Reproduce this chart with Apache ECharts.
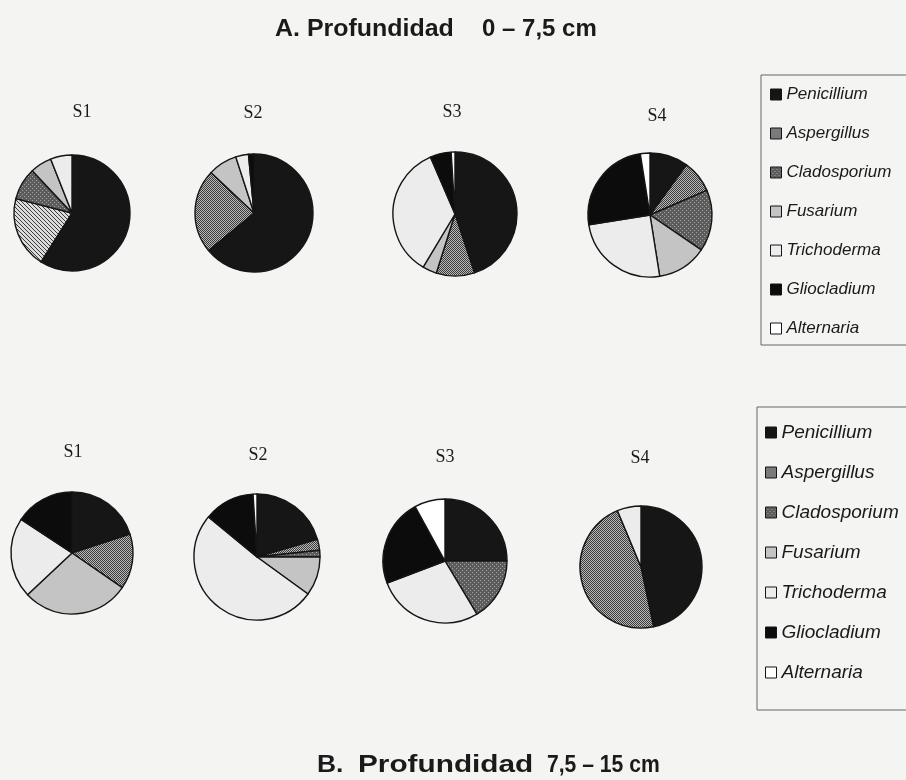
<!DOCTYPE html>
<html>
<head>
<meta charset="utf-8">
<script src="https://cdn.jsdelivr.net/npm/echarts@6/dist/echarts.min.js"></script>
<style>
html,body{margin:0;padding:0;background:#f4f4f3;}
#chart{width:906px;height:780px;}
</style>
</head>
<body>
<div id="chart"></div>
<script>
// ---- data (percent of isolates per species) ----
const species = ['Penicillium','Aspergillus','Cladosporium','Fusarium','Trichoderma','Gliocladium','Alternaria'];
const siteLabels = ['S1','S2','S3','S4'];
const titleA = ['A. Profundidad', '0 – 7,5 cm'];
const titleB = ['B.', 'Profundidad', '7,5 – 15 cm'];

const depthA_S1 = [59, 20, 9, 6, 6, 0, 0];
const depthA_S2 = [64, 23, 0, 8, 3.5, 1.5, 0];
const depthA_S3 = [45, 10, 0, 3.7, 35, 5.5, 1];
const depthA_S4 = [10, 8.5, 16, 13, 25, 25, 2.5];

const depthB_S1 = [20, 14.6, 0, 28.4, 21.3, 15.7, 0];
const depthB_S2 = [20.5, 2.8, 1.7, 10, 51, 13, 1];
const depthB_S3 = [25, 0, 16.4, 0, 27.8, 22.8, 8];
const depthB_S4 = [46.7, 47, 0, 0, 6.3, 0, 0];

// ---- styling ----
function pattern(size, bg, fg, pixels) {
  const c = document.createElement('canvas');
  c.width = size; c.height = size;
  const ctx = c.getContext('2d');
  ctx.fillStyle = bg; ctx.fillRect(0, 0, size, size);
  ctx.fillStyle = fg;
  pixels.forEach(p => ctx.fillRect(p[0], p[1], 1, 1));
  return { image: c, repeat: 'repeat' };
}
const crossPat = pattern(2, '#b8b8b8', '#3c3c3c', [[0,0],[1,1]]);
const diagPat = pattern(4, '#dcdcdc', '#3a3a3a', [[0,0],[1,1],[2,2],[3,3]]);
const cladPat = pattern(4, '#5c5c5c', '#a4a4a4', [[0,0],[2,2]]);

const speciesColor = {
  Penicillium: '#161616',
  Aspergillus: crossPat,
  Cladosporium: cladPat,
  Fusarium: '#c4c4c4',
  Trichoderma: '#ececec',
  Gliocladium: '#0c0c0c',
  Alternaria: '#ffffff'
};

const layoutA = [[72,213,58],[254,213,59],[455,214,62],[650,215,62]];
const layoutB = [[72,553,61],[257,557,63],[445,561,62],[641,567,61]];
const labelPosA = [[82,112],[253,113],[452,112],[657,116]];
const labelPosB = [[73,452],[258,455],[445,457],[640,458]];

const setsA = [depthA_S1, depthA_S2, depthA_S3, depthA_S4];
const setsB = [depthB_S1, depthB_S2, depthB_S3, depthB_S4];

function buildPie(id, vals, lay, overrides) {
  return {
    type: 'pie',
    id: id,
    center: [lay[0], lay[1]],
    radius: [0, lay[2]],
    startAngle: 90,
    clockwise: true,
    silent: true,
    animation: false,
    label: { show: false },
    labelLine: { show: false },
    emphasis: { disabled: true },
    itemStyle: { borderColor: '#151515', borderWidth: 1.4 },
    data: species.map((n, i) => ({
      name: n,
      value: vals[i],
      itemStyle: { color: (overrides && overrides[n]) || speciesColor[n] }
    })).filter(d => d.value > 0)
  };
}

const series = [];
setsA.forEach((v, i) => series.push(buildPie('A' + i, v, layoutA[i], i === 0 ? { Aspergillus: diagPat } : null)));
setsB.forEach((v, i) => series.push(buildPie('B' + i, v, layoutB[i], null)));

const graphics = [];
function addText(txt, x, y, font, align, sx) {
  graphics.push({
    type: 'text', x: x, y: y, silent: true, scaleX: sx || 1,
    style: { text: txt, font: font, fill: '#1a1a1a', align: align || 'center', verticalAlign: 'middle',
             textAlign: align || 'center', textVerticalAlign: 'middle' }
  });
}
const serifFont = '18px "Liberation Serif", "DejaVu Serif", serif';
const titleFont = 'bold 24px "Liberation Sans", Arial, sans-serif';
siteLabels.forEach((s, i) => addText(s, labelPosA[i][0], labelPosA[i][1], serifFont));
siteLabels.forEach((s, i) => addText(s, labelPosB[i][0], labelPosB[i][1], serifFont));
addText(titleA[0], 275, 29, titleFont, 'left', 1.04);
addText(titleA[1], 482, 29, titleFont, 'left', 1.0);
addText(titleB[0], 317, 765, titleFont, 'left', 1.1);
addText(titleB[1], 358, 765, titleFont, 'left', 1.24);
addText(titleB[2], 547, 765, titleFont, 'left', 0.88);

const legendData = species.map(n => ({ name: n, itemStyle: { color: speciesColor[n], borderColor: '#151515', borderWidth: 1 } }));

const legendBase = {
  orient: 'vertical',
  icon: 'rect',
  selectedMode: false,
  borderColor: '#666',
  borderWidth: 1,
  borderRadius: 0,
  itemStyle: { borderColor: '#151515', borderWidth: 1 },
  data: legendData
};

const option = {
  backgroundColor: '#f4f4f3',
  animation: false,
  legend: [
    Object.assign({}, legendBase, {
      left: 761, top: 75,
      padding: [11, 40, 8, 9],
      itemWidth: 11, itemHeight: 11, itemGap: 22,
      textStyle: { fontStyle: 'italic', fontSize: 17, fontFamily: '"Liberation Sans", Arial, sans-serif', color: '#1a1a1a' }
    }),
    Object.assign({}, legendBase, {
      left: 757, top: 407,
      padding: [16, 40, 28, 8],
      itemWidth: 11, itemHeight: 11, itemGap: 21,
      textStyle: { fontStyle: 'italic', fontSize: 19, fontFamily: '"Liberation Sans", Arial, sans-serif', color: '#1a1a1a' }
    })
  ],
  graphic: graphics,
  series: series
};

const chart = echarts.init(document.getElementById('chart'), null, { renderer: 'canvas' });
chart.setOption(option);
</script>
</body>
</html>
